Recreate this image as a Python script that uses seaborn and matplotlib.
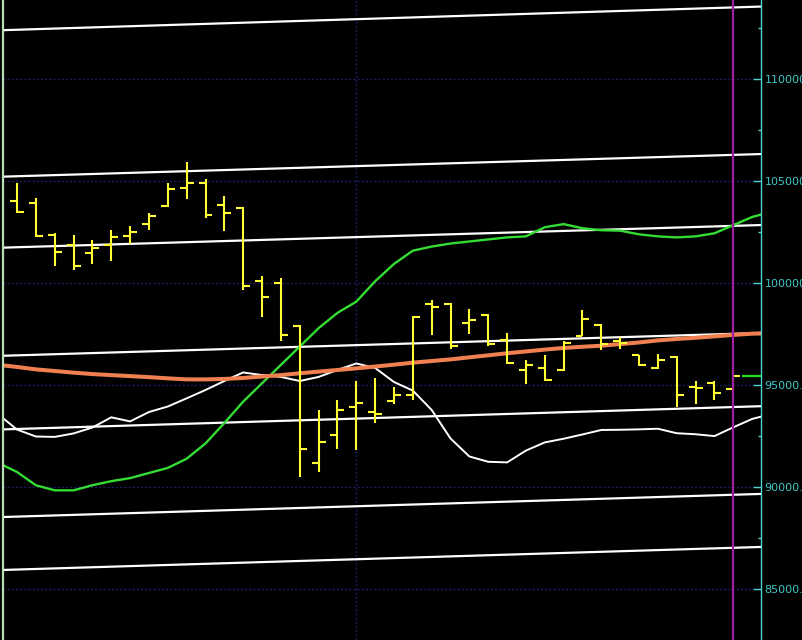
import matplotlib
matplotlib.use("Agg")
import matplotlib.pyplot as plt
import numpy as np
import seaborn as sns
from matplotlib.ticker import MultipleLocator, FormatStrFormatter

# OHLC bars (one per session)
opens = [104050, 103950, 102350, 101900, 101500, 101900, 102300, 102900, 103800, 104650,
         104900, 103850, 103700, 100100, 100000, 97900, 91200, 92550, 93950, 93700,
         94250, 94500, 99000, 99000, 98050, 98450, 97200, 95750, 95850, 95750,
         97400, 97950, 97150, 96500, 95850, 96400, 94900, 95100, 94800]
highs = [104900, 104200, 102450, 102350, 102100, 102600, 102800, 103450, 104900, 105950,
         105100, 104300, 103750, 100350, 100250, 97950, 93800, 94300, 95200, 95350,
         94900, 98400, 99200, 99050, 98750, 98500, 97550, 96250, 96500, 97150,
         98700, 98000, 97350, 96500, 96550, 96450, 95200, 95200, 95750]
lows = [103450, 102250, 100850, 100650, 100950, 101100, 101950, 102600, 103750, 104150,
        103200, 102550, 99650, 98350, 97150, 90500, 90750, 91900, 91850, 93150,
        94100, 94300, 97450, 96800, 97500, 96950, 96050, 95050, 95200, 95700,
        97400, 96750, 96800, 95950, 95800, 93950, 94100, 94300, 94750]
closes = [103500, 102300, 101550, 100850, 101750, 102250, 102500, 103300, 104600, 104900,
          103350, 103450, 99850, 99350, 97450, 91900, 92200, 93800, 94150, 93600,
          94500, 98350, 98850, 96950, 98200, 97000, 96100, 96000, 95250, 97050,
          98250, 97000, 97050, 96000, 96250, 94500, 94850, 94600, 95450]

# indicator curves, sampled from one session before the first bar to one after the last
curve_idx = list(range(-1, 41))
ma_line = [96000, 95900, 95780, 95700, 95620, 95550, 95500, 95450, 95400, 95340,
           95290, 95290, 95310, 95360, 95430, 95500, 95590, 95670, 95750, 95830,
           95920, 96010, 96110, 96190, 96270, 96370, 96470, 96570, 96660, 96750,
           96830, 96890, 96940, 97020, 97100, 97200, 97270, 97330, 97400, 97470,
           97530, 97560]
green_line = [91200, 90750, 90100, 89850, 89850, 90100, 90300, 90450, 90700, 90950,
              91400, 92150, 93150, 94200, 95100, 96000, 96900, 97800, 98550, 99100,
              100100, 100950, 101600, 101800, 101950, 102050, 102150, 102250, 102300, 102750,
              102900, 102700, 102600, 102580, 102400, 102300, 102250, 102300, 102450, 102850,
              103250, 103500]
white_line = [93580, 92830, 92490, 92470, 92640, 92930, 93430, 93230, 93690, 93960,
              94360, 94770, 95210, 95630, 95500, 95410, 95210, 95410, 95750, 96070,
              95850, 95160, 94740, 93790, 92390, 91510, 91250, 91220, 91800, 92200,
              92380, 92590, 92810, 92820, 92840, 92870, 92650, 92600, 92510, 92940,
              93350, 93590]

# parallel channel lines, value at session -1 and session 40
channel_start = [112400, 105220, 101740, 96440, 92830, 88535, 85940]
channel_end = [113580, 106350, 102870, 97580, 93990, 89690, 87090]

cursor_bar = 38
grid_bar = 18

sns.set_theme(style="dark", rc={"axes.facecolor": "black", "figure.facecolor": "black"})
plt.rcParams['font.family'] = ['DejaVu Sans']

fig = plt.figure(figsize=(8.03, 6.40), dpi=100)
ax = fig.add_axes([3 / 803, 0, 758 / 803, 1])
ax.set_facecolor("black")

# grid
ax.yaxis.set_major_locator(MultipleLocator(5000))
ax.yaxis.set_minor_locator(MultipleLocator(2500))
ax.grid(axis='y', which='major', color='#1c1c66', linestyle=(0, (1.5, 1.5)), linewidth=1)
ax.grid(axis='x', visible=False)
ax.axvline(grid_bar, color='#1c1c66', linestyle=(0, (1.5, 1.5)), linewidth=1)

# channel lines
for s, e in zip(channel_start, channel_end):
    sns.lineplot(x=[-1, 40], y=[s, e], ax=ax, color='white', linewidth=1.6)

sns.lineplot(x=curve_idx, y=green_line, ax=ax, color='#33dd33', linewidth=1.7)
sns.lineplot(x=curve_idx, y=white_line, ax=ax, color='white', linewidth=1.4)
sns.lineplot(x=curve_idx, y=ma_line, ax=ax, color='#f08050', linewidth=2.9)

# OHLC bars
idx = np.arange(len(closes))
tick = 0.37
ax.vlines(idx, lows, highs, color='#ffff33', linewidth=1.5, zorder=5)
ax.hlines(opens, idx - tick, idx, color='#ffff33', linewidth=1.5, zorder=5)
ax.hlines(closes, idx, idx + tick, color='#ffff33', linewidth=1.5, zorder=5)

# last price marker and cursor
ax.hlines(closes[-1], cursor_bar + 0.45, 41, color='#22dd22', linewidth=1.6, zorder=5)
ax.axvline(cursor_bar, color='#a020a0', linewidth=1.6, zorder=6)

ax.set_xlim(-0.743, 39.47)
ax.set_ylim(82514, 113887)
ax.set_xticks([])

ax.yaxis.tick_right()
ax.yaxis.set_major_formatter(FormatStrFormatter('%.2f'))
ax.tick_params(axis='y', which='major', direction='in', length=6, width=1,
               color='#50d0d0', labelcolor='#40c8c8', labelsize=8, pad=2.5,
               right=True, left=False)
ax.tick_params(axis='y', which='minor', direction='in', length=2.5, width=1,
               color='#50d0d0', right=True, left=False)

for side in ['top', 'bottom']:
    ax.spines[side].set_visible(False)
ax.spines['right'].set_color('#50d0d0')
ax.spines['right'].set_linewidth(1)
ax.spines['left'].set_color('#b8dcb8')
ax.spines['left'].set_linewidth(1.6)
ax.set_xlabel('')
ax.set_ylabel('')

fig.savefig('out.png', dpi=100, facecolor='black')
